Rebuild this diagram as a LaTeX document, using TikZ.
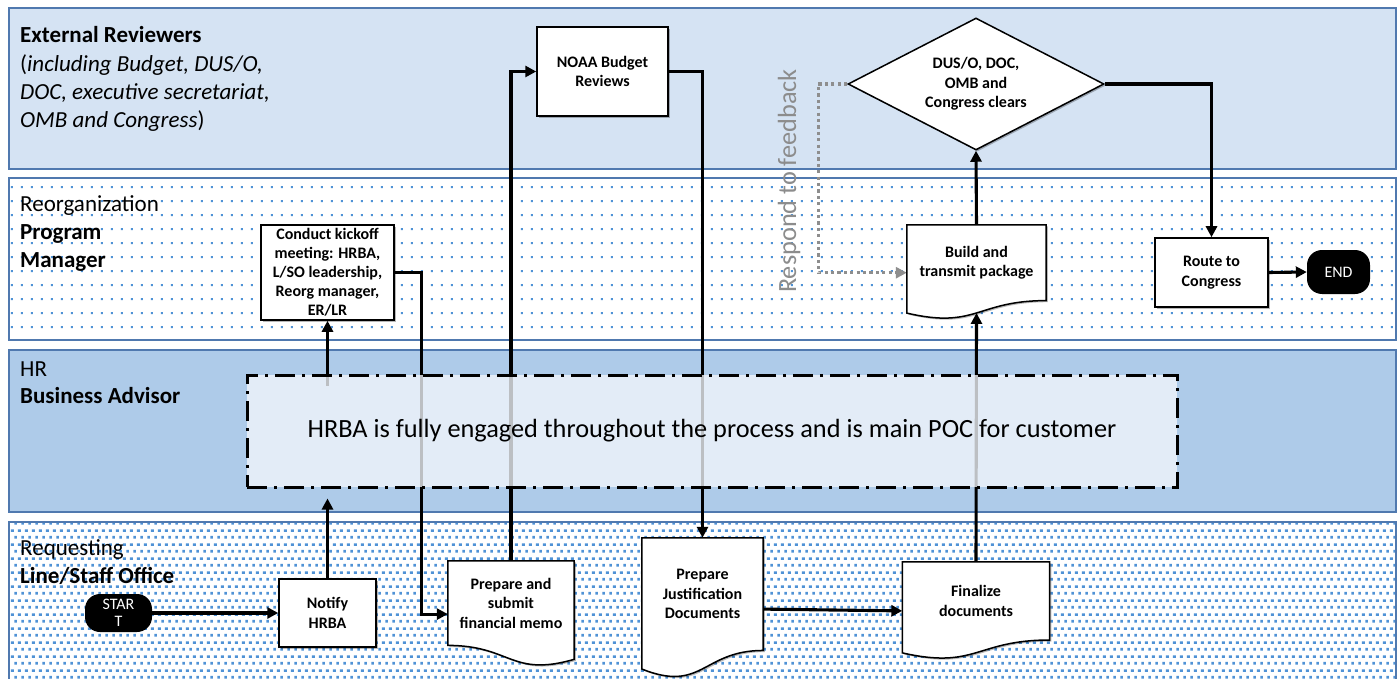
\documentclass[tikz,border=0pt]{standalone}
\usepackage{fontspec}
\setmainfont{Carlito}
\usetikzlibrary{arrows.meta,shapes.geometric,patterns,calc,shadows}

\definecolor{laneline}{HTML}{5079AF}
\definecolor{lanelight}{HTML}{D5E3F3}
\definecolor{lanemid}{HTML}{AECBE9}
\definecolor{dotblue}{HTML}{4F92D6}
\definecolor{veilfill}{HTML}{F2F6FB}
\definecolor{fbgray}{HTML}{8E8E8E}
\definecolor{fbtext}{HTML}{8C8C8C}

\pgfdeclarelayer{links}
\pgfdeclarelayer{veil}
\pgfdeclarelayer{shapes}
\pgfdeclarelayer{fore}
\pgfsetlayers{main,links,veil,shapes,fore}

% sparse dot fill of the program-manager lane
\pgfdeclarepatterninherentlycolored{sparsedots}
  {\pgfpointorigin}{\pgfpoint{10.3pt}{14pt}}{\pgfpoint{10.3pt}{14pt}}
  {\pgfsetfillcolor{dotblue}%
   \pgfpathrectangle{\pgfpoint{1pt}{1pt}}{\pgfpoint{2.1pt}{2.1pt}}%
   \pgfusepath{fill}}
% dense staggered dot fill of the requesting-office lane
\pgfdeclarepatterninherentlycolored{densedots}
  {\pgfpointorigin}{\pgfpoint{7.4pt}{13.6pt}}{\pgfpoint{7.4pt}{13.6pt}}
  {\pgfsetfillcolor{dotblue}%
   \pgfpathrectangle{\pgfpoint{0.5pt}{0.5pt}}{\pgfpoint{2.7pt}{2.7pt}}%
   \pgfpathrectangle{\pgfpoint{4.2pt}{7.3pt}}{\pgfpoint{2.7pt}{2.7pt}}%
   \pgfusepath{fill}}

\tikzset{
  lane/.style={draw=laneline, line width=1.3pt},
  lanetext/.style={anchor=base west, inner sep=0pt, font=\fontsize{23}{27}\selectfont},
  softshadow/.style={drop shadow={shadow xshift=1.6pt, shadow yshift=-1.6pt,
      opacity=0.28, fill=black}},
  stepbox/.style={draw=black, line width=1.5pt, fill=white, align=center,
      inner sep=1pt, font=\fontsize{16}{19.5}\selectfont\bfseries, softshadow},
  doctext/.style={align=center, inner sep=1pt, font=\fontsize{16}{19.5}\selectfont\bfseries},
  docline/.style={draw=black, line width=1.5pt, fill=white, softshadow},
  terminal/.style={fill=black, rounded corners=15pt, text=white, align=center,
      font=\fontsize{16}{17.5}\selectfont, inner sep=1pt},
  flow/.style={line width=3.1pt, -{Triangle[length=11pt,width=11pt]}},
  feedback/.style={draw=fbgray, line width=3.2pt, dash pattern=on 3.2pt off 3.2pt,
      -{Triangle[length=11pt,width=11pt]}}
}

% document symbol with a wavy bottom edge, drawn around a text node
% (the node covers the flat part of the sheet)
\newcommand\docsheet[1]{%
  \draw[docline] let \p1=(#1.north west), \p2=(#1.south east), \n1={\y1-\y2} in
    (\x1,\y1) -- (\x2,\y1) -- (\x2,\y2)
    .. controls ({(\x1+\x2)/2},\y2) and ({(\x1+\x2)/2},{\y1-1.3803*\n1})
    .. (\x1,{\y1-1.1646*\n1}) -- cycle;
  \path let \p1=(#1.north west), \p2=(#1.south east), \n1={\y1-\y2} in
    ({(\x1+\x2)/2},{\y1-1.1632*\n1}) coordinate (#1-wave);}
% the same symbol with the wave mirrored
\newcommand\docsheetflip[1]{%
  \draw[docline] let \p1=(#1.north west), \p2=(#1.south east), \n1={\y1-\y2} in
    (\x1,\y1) -- (\x2,\y1) -- (\x2,{\y1-1.1646*\n1})
    .. controls ({(\x1+\x2)/2},{\y1-1.3803*\n1}) and ({(\x1+\x2)/2},\y2)
    .. (\x1,\y2) -- cycle;
  \path let \p1=(#1.north west), \p2=(#1.south east), \n1={\y1-\y2} in
    ({(\x1+\x2)/2},{\y1-1.1632*\n1}) coordinate (#1-wave);}

\begin{document}
\begin{tikzpicture}[x=1pt,y=-1pt]
\useasboundingbox (0,0) rectangle (1400,679);

% ---------- swim lanes ----------
\fill[white] (0,0) rectangle (1400,679);
\draw[lane, fill=lanelight] (9,8) rectangle (1396,169);
\fill[white] (9,178) rectangle (1396,340);
\fill[pattern=sparsedots] (9,178) rectangle (1396,340);
\draw[lane] (9,178) rectangle (1396,340);
\draw[lane, fill=lanemid] (9,350) rectangle (1396,512);
\fill[white] (9,522) rectangle (1396,695);
\fill[pattern=densedots] (9,522) rectangle (1396,695);
\draw[lane] (9,522) rectangle (1396,695);

% lane headings
\node[lanetext] (ext1) at (20,43)  {\bfseries External Reviewers};
\node[lanetext] (ext2) at (20,72)  {(\textit{including Budget, DUS/O,}};
\node[lanetext] (ext3) at (20,100) {\textit{DOC, executive secretariat,}};
\node[lanetext] (ext4) at (20,128) {\textit{OMB and Congress})};
\node[lanetext] (pm1) at (20,212) {Reorganization};
\node[lanetext] (pm2) at (20,240) {\bfseries Program};
\node[lanetext] (pm3) at (20,267) {\bfseries Manager};
\node[lanetext] (hr1) at (20,376) {HR};
\node[lanetext] (hr2) at (20,403) {\bfseries Business Advisor};
\node[lanetext] (lo1) at (20,555) {Requesting};
\node[lanetext] (lo2) at (20,583) {\bfseries Line/Staff Office};

% ---------- process steps ----------
\begin{pgfonlayer}{fore}
\node[stepbox, minimum width=131pt, minimum height=89pt] (noaa) at (602.5,71.5)
  {NOAA Budget\\Reviews};
\node[diamond, aspect=1.94, draw=black, line width=1.5pt, fill=white, softshadow,
      minimum width=256pt, minimum height=132pt, inner sep=0pt, align=center,
      font=\fontsize{16}{19.5}\selectfont\bfseries] (dia) at (976,84)
  {DUS/O, DOC,\\OMB and\\Congress clears};
\node[stepbox, minimum width=133pt, minimum height=95pt, font=\fontsize{16}{19}\selectfont\bfseries]
  (kickoff) at (327.5,272.5)
  {Conduct kickoff\\meeting: HRBA,\\L/SO leadership,\\Reorg manager,\\ER/LR};
\node[stepbox, minimum width=113pt, minimum height=69pt] (route) at (1211.5,272.5)
  {Route to\\Congress};
\node[terminal, minimum width=63pt, minimum height=44pt] (end) at (1338.5,272) {END};
\node[terminal, minimum width=67pt, minimum height=38pt] (start) at (118.5,613) {STAR\\T};
\node[stepbox, minimum width=97pt, minimum height=68pt] (notify) at (327.5,613)
  {Notify\\HRBA};

% document steps: text nodes first, sheets behind them
\node[doctext, minimum width=126pt, minimum height=84.2pt] (memo) at (511,603.1)
  {Prepare and\\submit\\financial memo};
\node[doctext, minimum width=121pt, minimum height=112.3pt] (just) at (702.5,594.1)
  {Prepare\\Justification\\Documents};
\node[doctext, minimum width=147pt, minimum height=77.8pt] (fin) at (976,600.9)
  {Finalize\\documents};
\node[doctext, minimum width=139pt, minimum height=75.4pt] (build) at (976.5,262.7)
  {Build and\\transmit package};
\end{pgfonlayer}
\begin{pgfonlayer}{shapes}
  \docsheetflip{memo}
  \docsheet{just}
  \docsheet{fin}
  \docsheet{build}
\end{pgfonlayer}

% HR business advisor band, laid over the connectors
\begin{pgfonlayer}{veil}
  \node[draw=black, line width=3pt, dash pattern=on 20pt off 7pt on 3pt off 7pt,
        fill=veilfill, fill opacity=0.78, text opacity=1,
        minimum width=930pt, minimum height=112pt,
        font=\fontsize{26.3}{30}\selectfont] (hrba) at (712,431)
    {HRBA is fully engaged throughout the process and is main POC for customer};
\end{pgfonlayer}

% ---------- connectors ----------
\begin{pgfonlayer}{links}
  \draw[flow] (start) -- (notify);
  \draw[flow] (notify.north) -- ($(notify.north |- hrba.south)+(0,10)$);
  \draw[flow] ($(kickoff.south |- hrba.north)+(0,12)$) -- (kickoff.south);
  \draw[flow] (kickoff.east) -- ++(27,0) |- ([yshift=-11pt]memo.west);
  \draw[flow] (memo.north) |- (noaa.west);
  \draw[flow] (noaa.east) -| (just.north);
  \draw[flow] ([yshift=-15pt]just.east) -- ([yshift=-10pt]fin.west);
  \draw[flow] (fin.north) -- (build-wave);
  \draw[flow] (build.north) -- (dia.south);
  \draw[flow] (dia.east) -| (route.north);
  \draw[flow] (route.east) -- (end.west);
  \draw[feedback] (dia.west) -- ++(-29,0) |- ([yshift=-10pt]build.west);
\end{pgfonlayer}

\node[rotate=90, text=fbtext, inner sep=0pt, font=\fontsize{26.3}{30}\selectfont]
  (fbnote) at (789,181) {Respond to feedback};

\end{tikzpicture}
\end{document}
